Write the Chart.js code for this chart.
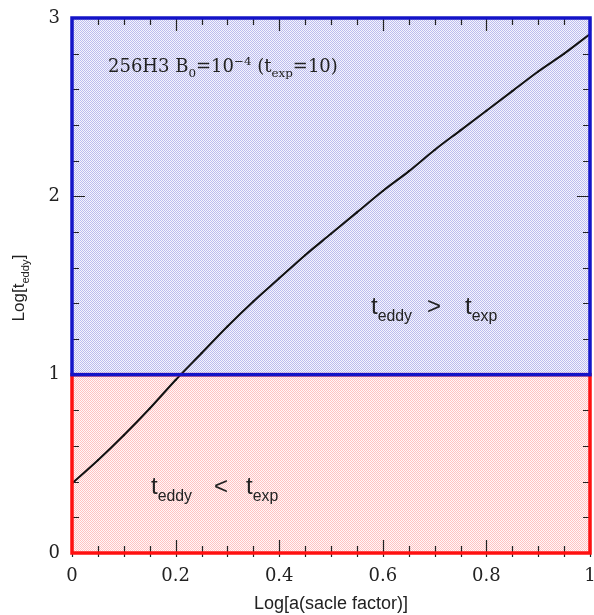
<!DOCTYPE html>
<html>
<head>
<meta charset="utf-8">
<script src="https://cdn.jsdelivr.net/npm/chart.js@4/dist/chart.umd.min.js"></script>
<style>
  html, body { margin: 0; padding: 0; background: #fff; }
  #c { display: block; }
</style>
</head>
<body>
<canvas id="c" width="594" height="615"></canvas>
<script>
// log of scale factor a
var LOG_A = [0, 0.05, 0.1, 0.15, 0.2, 0.25, 0.3, 0.35, 0.4, 0.45, 0.5,
             0.55, 0.6, 0.65, 0.7, 0.75, 0.8, 0.85, 0.9, 0.95, 1.0];
// log of eddy turnover time
var LOG_T_EDDY = [0.39, 0.52, 0.66, 0.81, 0.97, 1.12, 1.27, 1.41, 1.54, 1.67, 1.79,
                  1.91, 2.03, 2.14, 2.26, 2.37, 2.48, 2.59, 2.70, 2.80, 2.91];
var LOG_T_EXP = 1;
var X_TICKS = [0, 0.2, 0.4, 0.6, 0.8, 1];
var Y_TICKS = [0, 1, 2, 3];
var X_MINOR = 0.05;
var Y_MINOR = 0.2;

var BLUE = "#1414c8";
var RED = "#ff1010";

function makePattern(dot, bg) {
  var c = document.createElement("canvas");
  c.width = 4; c.height = 4;
  var g = c.getContext("2d");
  g.fillStyle = bg;
  g.fillRect(0, 0, 4, 4);
  g.fillStyle = dot;
  for (var i = 0; i < 4; i++) {
    for (var j = 0; j < 4; j++) {
      if ((i + j) % 2 == 0) g.fillRect(i, j, 1, 1);
    }
  }
  return document.getElementById("c").getContext("2d").createPattern(c, "repeat");
}

// draws text with _sub and ^sup pieces, starting at x
function richText(ctx, parts, x, y, size, font) {
  parts.forEach(function (p) {
    var s = size, dy = 0;
    if (p[1] == "sub") { s = size * 0.66; dy = size * 0.28; }
    if (p[1] == "sup") { s = size * 0.66; dy = -size * 0.38; }
    ctx.font = s + "px " + font;
    ctx.fillText(p[0], x, y + dy);
    x += ctx.measureText(p[0]).width;
  });
  return x;
}

var regions = {
  id: "regions",
  beforeDatasetsDraw: function (chart) {
    var ctx = chart.ctx, xs = chart.scales.x, ys = chart.scales.y;
    var l = xs.getPixelForValue(xs.min), r = xs.getPixelForValue(xs.max);
    var y0 = ys.getPixelForValue(ys.min), y1 = ys.getPixelForValue(LOG_T_EXP), y3 = ys.getPixelForValue(ys.max);
    ctx.save();
    ctx.fillStyle = makePattern("#ffc2c2", "#fff7f7");
    ctx.fillRect(l, y1, r - l, y0 - y1);
    ctx.fillStyle = makePattern("#bcbcee", "#f5f5fd");
    ctx.fillRect(l, y3, r - l, y1 - y3);
    ctx.restore();
  },
  afterDatasetsDraw: function (chart) {
    var ctx = chart.ctx, xs = chart.scales.x, ys = chart.scales.y;
    var l = xs.getPixelForValue(xs.min), r = xs.getPixelForValue(xs.max);
    var y0 = ys.getPixelForValue(ys.min), y1 = ys.getPixelForValue(LOG_T_EXP), y3 = ys.getPixelForValue(ys.max);
    ctx.save();
    // ticks, pointing inward
    ctx.strokeStyle = "#222";
    ctx.lineWidth = 1.2;
    ctx.beginPath();
    for (var v = xs.min; v <= xs.max + 1e-9; v += X_MINOR) {
      var px = Math.round(xs.getPixelForValue(v)) + 0.5;
      var major = Math.abs(v / 0.2 - Math.round(v / 0.2)) < 1e-6;
      var len = major ? 13 : 7;
      ctx.moveTo(px, y0 + 4); ctx.lineTo(px, y0 - len);
      ctx.moveTo(px, y3); ctx.lineTo(px, y3 + len);
    }
    for (var w = ys.min; w <= ys.max + 1e-9; w += Y_MINOR) {
      var py = Math.round(ys.getPixelForValue(w)) + 0.5;
      var maj = Math.abs(w - Math.round(w)) < 1e-6;
      var ln = maj ? 13 : 7;
      ctx.moveTo(l, py); ctx.lineTo(l + ln, py);
      ctx.moveTo(r, py); ctx.lineTo(r - ln, py);
    }
    ctx.stroke();
    // region frames
    ctx.lineWidth = 3.5;
    ctx.strokeStyle = RED;
    ctx.strokeRect(l, y1, r - l, y0 - y1);
    ctx.strokeStyle = BLUE;
    ctx.strokeRect(l, y3, r - l, y1 - y3);

    // labels
    ctx.fillStyle = "#222";
    ctx.textBaseline = "alphabetic";
    richText(ctx, [["256H3 B", ""], ["0", "sub"], ["=10", ""], ["\u22124", "sup"], [" (t", ""], ["exp", "sub"], ["=10)", ""]],
      108, 72, 18, "'DejaVu Serif'");
    var sans = "'Liberation Sans'";
    richText(ctx, [["t", ""], ["eddy", "sub"]], 371, 314, 24, sans);
    richText(ctx, [[">", ""]], 427, 314, 24, sans);
    richText(ctx, [["t", ""], ["exp", "sub"]], 465, 314, 24, sans);
    richText(ctx, [["t", ""], ["eddy", "sub"]], 151, 494, 24, sans);
    richText(ctx, [["<", ""]], 214, 494, 24, sans);
    richText(ctx, [["t", ""], ["exp", "sub"]], 246, 494, 24, sans);

    // y axis title
    ctx.translate(24, 288);
    ctx.rotate(-Math.PI / 2);
    var parts = [["Log[t", ""], ["eddy", "sub"], ["]", ""]];
    var wsum = 0;
    parts.forEach(function (p) {
      ctx.font = (p[1] ? 17 * 0.66 : 17) + "px " + sans;
      wsum += ctx.measureText(p[0]).width;
    });
    richText(ctx, parts, -wsum / 2, 0, 17, sans);
    ctx.restore();
  }
};

var chart = new Chart(document.getElementById("c"), {
  type: "line",
  data: {
    labels: LOG_A,
    datasets: [{
      data: LOG_A.map(function (a, i) { return { x: a, y: LOG_T_EDDY[i] }; }),
      borderColor: "#111",
      borderWidth: 2,
      pointRadius: 1,
      pointBackgroundColor: "#111",
      pointBorderWidth: 0,
      cubicInterpolationMode: "monotone",
      fill: false
    }]
  },
  options: {
    responsive: false,
    animation: false,
    devicePixelRatio: 1,
    layout: { padding: { top: 18, right: 4, left: 0, bottom: 0 } },
    plugins: { legend: { display: false }, tooltip: { enabled: false } },
    scales: {
      x: {
        type: "linear",
        min: 0, max: 1,
        afterBuildTicks: function (s) { s.ticks = X_TICKS.map(function (v) { return { value: v }; }); },
        afterFit: function (s) { s.height = 62; s.paddingLeft = 0; s.paddingRight = 0; },
        grid: { display: false, drawTicks: false },
        border: { display: false },
        ticks: {
          padding: 13,
          color: "#222",
          font: { family: "'DejaVu Serif'", size: 18 },
          maxRotation: 0,
          autoSkip: false,
          callback: function (v) { return String(Math.round(v * 10) / 10); }
        },
        title: {
          display: true,
          text: "Log[a(sacle factor)]",
          color: "#222",
          font: { family: "'Liberation Sans'", size: 18 },
          padding: { top: 0, bottom: 0 }
        }
      },
      y: {
        type: "linear",
        min: 0, max: 3,
        afterBuildTicks: function (s) { s.ticks = Y_TICKS.map(function (v) { return { value: v }; }); },
        afterFit: function (s) { s.width = 72; s.paddingTop = 0; s.paddingBottom = 0; },
        grid: { display: false, drawTicks: false },
        border: { display: false },
        ticks: {
          padding: 12,
          color: "#222",
          font: { family: "'DejaVu Serif'", size: 18 }
        }
      }
    }
  },
  plugins: [regions]
});
</script>
</body>
</html>
